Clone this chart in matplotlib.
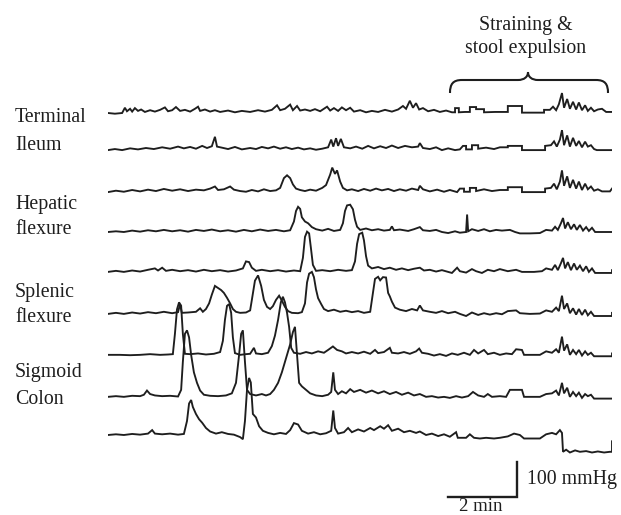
import matplotlib
matplotlib.use("Agg")
import matplotlib.pyplot as plt
from matplotlib.path import Path
from matplotlib.patches import PathPatch

# ---------------- data (time in min, pressure in mmHg) ----------------
t1 = [0.00,0.20,0.41,0.49,0.55,0.64,0.70,0.78,0.87,0.96,1.07,1.22,1.36,1.51,1.65,1.74,1.86,1.97,2.09,2.23,2.38,2.52,2.61,2.67,2.81,2.96,3.10,3.25,3.48,3.68,3.88,4.12,4.35,4.55,4.75,4.90,4.99,5.13,5.28,5.36,5.48,5.57,5.71,5.86,6.00,6.15,6.35,6.44,6.55,6.67,6.78,6.90,7.02,7.13,7.31,7.48,7.65,7.83,8.03,8.23,8.41,8.55,8.64,8.75,8.84,8.93,9.02,9.13,9.28,9.45,9.62,9.80,9.97,10.06,10.06,10.17,10.17,10.35,10.49,10.49,10.67,10.67,10.90,10.90,11.22,11.59,11.59,12.00,12.00,12.38,12.64,12.64,12.81,12.90,12.99,13.07,13.16,13.22,13.31,13.39,13.48,13.57,13.65,13.74,13.83,13.91,14.00,14.09,14.20,14.32,14.44,14.61]
p1 = [0,-2,0,15,5,12,4,14,6,10,3,8,4,9,16,5,8,17,6,9,4,12,18,6,10,4,8,3,7,2,6,3,8,4,9,22,8,12,24,8,20,7,10,6,11,5,18,7,14,6,16,8,15,4,8,2,6,3,9,4,10,20,12,35,15,28,10,14,5,9,3,7,2,2,14,14,2,3,3,17,17,11,11,2,3,3,20,20,1,1,1,9,9,18,8,25,57,15,40,12,32,10,30,8,22,6,15,5,10,12,3,3]

t2 = [0.00,0.20,0.41,0.64,0.87,1.10,1.33,1.57,1.80,2.03,2.20,2.38,2.55,2.73,2.87,3.01,3.10,3.16,3.30,3.48,3.68,3.88,4.12,4.29,4.46,4.64,4.81,4.99,5.16,5.33,5.51,5.68,5.86,6.03,6.21,6.38,6.47,6.53,6.61,6.67,6.75,6.84,7.02,7.19,7.37,7.54,7.71,7.89,8.06,8.23,8.41,8.61,8.81,8.99,9.04,9.13,9.33,9.51,9.68,9.86,10.06,10.20,10.29,10.38,10.38,10.55,10.55,10.73,10.73,10.96,11.19,11.36,11.59,11.59,12.00,12.00,12.35,12.67,12.67,12.84,12.93,13.01,13.10,13.16,13.22,13.31,13.39,13.48,13.57,13.65,13.74,13.83,13.91,14.00,14.09,14.17,14.61]
p2 = [0,3,0,5,2,6,3,8,4,10,5,9,4,12,6,11,38,10,7,3,9,2,6,3,9,5,10,4,8,3,7,2,5,1,4,8,30,10,34,12,32,8,5,10,4,12,5,11,6,13,6,12,8,10,20,6,3,8,0,5,0,2,12,12,2,2,14,14,4,7,3,8,8,12,12,0,0,0,12,14,25,10,30,57,14,42,10,35,12,26,8,24,10,14,3,0,0]

t3 = [0.00,0.23,0.46,0.70,0.93,1.16,1.39,1.62,1.86,2.09,2.32,2.55,2.78,2.96,3.10,3.19,3.36,3.54,3.65,3.83,4.00,4.17,4.35,4.52,4.70,4.87,4.99,5.10,5.19,5.28,5.36,5.45,5.57,5.71,5.86,6.03,6.21,6.32,6.44,6.50,6.58,6.64,6.73,6.81,6.93,7.07,7.25,7.42,7.60,7.77,7.94,8.12,8.29,8.46,8.64,8.81,8.99,9.04,9.13,9.33,9.54,9.74,9.91,10.12,10.20,10.32,10.32,10.49,10.49,10.67,10.67,10.90,11.13,11.36,11.59,11.59,12.00,12.00,12.67,12.67,12.84,12.93,13.01,13.10,13.16,13.22,13.31,13.39,13.48,13.57,13.65,13.74,13.83,13.91,14.00,14.09,14.20,14.32,14.55,14.61]
p3 = [0,4,1,6,2,7,3,9,4,8,3,7,5,10,16,6,8,16,7,3,1,6,2,8,3,5,12,40,48,40,22,10,6,3,7,4,12,20,50,70,52,62,30,12,5,8,3,9,4,10,5,9,3,8,4,10,6,18,8,2,7,1,6,0,10,10,1,1,12,12,3,8,3,6,6,14,14,0,0,10,12,24,8,30,62,18,45,12,35,10,30,6,24,8,16,4,8,2,2,10]

t4 = [0.00,0.23,0.46,0.70,0.93,1.16,1.39,1.62,1.86,2.09,2.32,2.55,2.78,3.01,3.25,3.48,3.71,3.94,4.17,4.41,4.64,4.87,5.10,5.28,5.39,5.45,5.51,5.57,5.62,5.71,5.80,5.91,6.03,6.21,6.38,6.55,6.73,6.81,6.87,6.93,7.02,7.10,7.16,7.22,7.31,7.48,7.65,7.83,8.00,8.17,8.23,8.29,8.46,8.70,8.87,9.04,9.13,9.33,9.51,9.68,9.86,10.06,10.20,10.38,10.41,10.44,10.55,10.73,10.90,11.07,11.25,11.42,11.65,11.80,11.94,12.23,12.52,12.70,12.87,12.96,13.04,13.13,13.19,13.25,13.33,13.42,13.51,13.59,13.68,13.77,13.86,13.94,14.03,14.12,14.26,14.61]
p4 = [0,2,0,4,1,5,2,6,2,5,1,6,3,7,2,5,1,6,2,7,3,6,2,5,30,60,72,66,42,30,25,14,8,4,9,3,6,25,60,76,78,65,35,15,6,10,5,8,4,6,16,5,7,3,8,14,5,3,6,0,-3,2,-2,0,50,2,8,3,8,2,6,4,6,0,-4,-4,-3,6,4,15,6,25,40,10,28,8,22,6,20,4,14,3,12,0,0,0]

t5 = [0.00,0.23,0.46,0.70,0.93,1.16,1.36,1.45,1.57,1.68,1.86,2.09,2.32,2.55,2.78,3.01,3.25,3.48,3.71,3.91,4.00,4.09,4.17,4.29,4.46,4.70,4.93,5.16,5.39,5.57,5.65,5.71,5.77,5.83,5.88,5.94,6.03,6.21,6.44,6.67,6.90,7.07,7.16,7.22,7.28,7.37,7.42,7.48,7.54,7.65,7.83,8.00,8.17,8.35,8.52,8.70,8.87,9.04,9.16,9.33,9.51,9.68,9.86,9.97,10.12,10.20,10.38,10.55,10.67,10.84,11.01,11.19,11.36,11.59,11.83,12.00,12.35,12.58,12.70,12.87,12.96,13.04,13.13,13.19,13.25,13.33,13.42,13.51,13.59,13.68,13.77,13.86,13.94,14.03,14.12,14.61,14.61]
p5 = [0,3,0,4,1,6,10,4,12,3,6,2,5,1,6,2,5,1,4,10,30,28,12,3,6,2,5,1,4,2,40,100,115,110,70,20,3,5,2,6,3,5,30,80,108,112,90,45,18,10,14,8,12,6,10,5,9,12,4,6,1,5,0,-3,12,2,-2,8,2,-3,6,2,8,2,6,0,0,2,10,6,20,5,25,40,10,28,5,24,6,18,2,16,0,10,-3,-3,5]

t6 = [0.00,0.23,0.46,0.70,0.93,1.16,1.39,1.62,1.86,2.03,2.09,2.14,2.32,2.55,2.67,2.75,2.84,2.93,3.01,3.10,3.19,3.28,3.36,3.45,3.54,3.62,3.71,3.83,4.00,4.12,4.17,4.26,4.35,4.44,4.52,4.61,4.70,4.78,4.87,4.96,5.04,5.13,5.22,5.33,5.51,5.62,5.71,5.77,5.83,5.91,5.97,6.03,6.09,6.18,6.26,6.38,6.55,6.73,6.90,7.07,7.25,7.42,7.60,7.68,7.74,7.83,7.89,7.97,8.06,8.12,8.17,8.23,8.32,8.46,8.64,8.81,8.96,9.04,9.13,9.33,9.51,9.68,9.86,10.06,10.20,10.38,10.55,10.73,10.90,11.07,11.25,11.42,11.59,11.83,11.94,12.23,12.52,12.70,12.87,12.99,13.07,13.16,13.22,13.31,13.39,13.48,13.57,13.65,13.74,13.83,13.91,14.00,14.09,14.61,14.61]
p6 = [0,3,0,4,1,5,2,6,2,5,28,3,4,6,16,6,14,30,55,80,74,68,60,46,30,14,6,3,4,10,40,95,110,80,40,20,14,22,40,52,38,20,8,3,2,5,30,90,115,120,105,70,45,28,14,8,12,6,9,5,8,3,6,60,100,106,96,105,104,60,50,35,18,12,8,14,10,24,10,6,3,8,2,6,0,-6,4,-3,2,-2,2,-1,8,10,2,0,1,10,6,18,8,52,14,30,2,16,-2,14,-3,12,-4,6,-6,-6,3]

t7 = [0.00,0.35,0.64,0.93,1.22,1.51,1.74,1.88,1.94,2.00,2.06,2.12,2.17,2.23,2.38,2.61,2.84,3.07,3.25,3.33,3.39,3.45,3.51,3.57,3.62,3.68,3.83,4.00,4.12,4.23,4.29,4.46,4.64,4.75,4.84,4.93,5.01,5.07,5.13,5.19,5.25,5.31,5.39,5.57,5.74,5.91,6.09,6.26,6.38,6.52,6.64,6.78,6.90,7.07,7.25,7.42,7.60,7.74,7.83,8.00,8.17,8.23,8.41,8.58,8.75,8.93,9.02,9.10,9.28,9.45,9.62,9.80,9.97,10.14,10.32,10.49,10.61,10.73,10.90,11.01,11.19,11.36,11.54,11.71,11.83,12.00,12.06,12.52,12.70,12.87,12.99,13.07,13.16,13.22,13.31,13.39,13.48,13.57,13.65,13.74,13.83,13.91,14.00,14.09,14.61,14.61]
p7 = [0,0,-1,0,2,0,1,2,60,130,150,140,60,3,2,4,1,3,8,40,100,140,145,120,50,5,0,2,3,20,4,2,6,25,55,100,150,166,150,120,80,20,6,3,8,4,10,6,14,24,14,10,4,8,4,9,3,14,5,8,20,6,4,8,3,10,18,6,3,-2,2,-3,4,0,6,0,14,4,14,2,6,0,4,2,16,14,0,0,10,6,16,6,52,12,30,0,14,2,14,-2,10,0,6,-4,-4,4]

t8 = [0.00,0.23,0.46,0.70,0.93,1.04,1.13,1.22,1.36,1.57,1.80,2.03,2.12,2.17,2.23,2.29,2.35,2.41,2.49,2.58,2.67,2.78,2.96,3.19,3.42,3.59,3.71,3.80,3.86,3.91,3.97,4.03,4.12,4.29,4.46,4.58,4.70,4.81,4.93,5.04,5.16,5.28,5.36,5.42,5.48,5.54,5.62,5.74,5.86,6.03,6.21,6.38,6.47,6.53,6.58,6.67,6.78,6.90,7.02,7.13,7.31,7.48,7.65,7.83,8.00,8.17,8.35,8.52,8.70,8.87,9.04,9.22,9.39,9.57,9.74,9.91,10.09,10.26,10.44,10.58,10.73,10.90,11.01,11.13,11.36,11.54,11.65,12.00,12.06,12.52,12.70,12.87,12.99,13.07,13.16,13.22,13.31,13.39,13.48,13.57,13.65,13.74,13.83,13.91,14.00,14.09,14.61]
p8 = [0,2,0,3,2,6,18,8,4,2,3,1,20,100,180,190,170,120,70,40,18,6,3,2,4,10,40,120,180,190,100,20,8,4,8,4,8,20,40,70,110,150,185,200,120,40,30,20,10,4,2,6,14,70,20,8,16,10,22,14,20,12,18,10,16,8,14,6,12,4,8,0,2,-2,0,-3,2,-2,2,14,4,0,8,0,2,0,20,20,0,0,8,10,18,4,40,10,26,0,14,2,12,-3,8,2,6,-5,-5]

t9 = [0.00,0.23,0.46,0.70,0.93,1.16,1.28,1.36,1.57,1.80,2.03,2.20,2.29,2.35,2.41,2.46,2.55,2.64,2.73,2.84,2.96,3.13,3.30,3.48,3.65,3.83,3.91,3.97,4.03,4.09,4.14,4.20,4.29,4.38,4.49,4.64,4.81,4.99,5.16,5.28,5.39,5.51,5.62,5.80,5.97,6.15,6.32,6.47,6.53,6.58,6.67,6.84,6.96,7.07,7.25,7.42,7.60,7.71,7.89,8.00,8.12,8.23,8.41,8.58,8.75,8.93,9.04,9.22,9.39,9.57,9.74,9.91,10.09,10.14,10.38,10.49,10.61,10.78,10.96,11.19,11.36,11.59,11.77,11.94,12.06,12.52,12.70,12.87,12.99,13.10,13.16,13.19,13.28,13.39,13.54,13.68,13.86,14.03,14.20,14.38,14.55,14.61,14.61]
p9 = [0,2,0,3,1,4,14,4,2,4,1,3,40,90,100,80,60,45,35,20,10,4,8,3,1,-6,-12,40,130,163,150,60,50,25,12,6,2,6,3,14,34,30,12,4,8,2,5,12,70,20,4,8,20,8,16,10,20,14,25,18,28,12,18,8,12,6,10,0,4,-3,2,-5,8,-8,-8,2,-8,-10,-8,-10,-8,-4,4,0,-10,-10,2,6,2,14,6,-48,-42,-50,-44,-48,-46,-50,-47,-50,-48,-48,-18]

series_t = [t1, t2, t3, t4, t5, t6, t7, t8, t9]
series_p = [p1, p2, p3, p4, p5, p6, p7, p8, p9]
offsets = [920, 814, 694, 580, 466, 346, 229, 109, 0]  # vertical stacking, mmHg

labels = [("Terminal", "Ileum"), ("Hepatic", "flexure"),
          ("Splenic", "flexure"), ("Sigmoid", "Colon")]
bracket_text = ["Straining &", "stool expulsion"]
scale_p = 100   # mmHg
scale_t = 2     # min

# ---------------- figure ----------------
W, H = 621, 515
fig = plt.figure(figsize=(W / 100, H / 100), dpi=100)
FONT = "Liberation Serif"
FS = 14.3
INK = "#1e1e1e"

x0, x1 = 108, 612
ypx_bot, ypx_top = 500, 80
px_per_mmHg = 0.35
base_px = 435
ax = fig.add_axes([x0 / W, 1 - ypx_bot / H, (x1 - x0) / W, (ypx_bot - ypx_top) / H])
ax.set_xlim(0, 14.61)
ax.set_ylim(-(ypx_bot - base_px) / px_per_mmHg, (base_px - ypx_top) / px_per_mmHg)
ax.axis("off")

for t, p, off in zip(series_t, series_p, offsets):
    ax.plot(t, [v + off for v in p], color=INK, lw=1.35, solid_joinstyle="miter")

# scale bars
xb1 = 11.86
xb0 = xb1 - scale_t
yb0 = -177
ax.plot([xb0, xb1, xb1], [yb0, yb0, yb0 + scale_p], color=INK, lw=1.7,
        clip_on=False, solid_joinstyle="miter")
ax.text(xb1 + 0.28, yb0 + scale_p / 2, "100 mmHg", fontsize=FS, family=FONT,
        color=INK, va="center", ha="left", clip_on=False)
ax.text((xb0 + xb1) / 2 - 0.05, yb0 - 4, "2 min", fontsize=13.5, family=FONT,
        color=INK, va="top", ha="center", clip_on=False)

# overlay in pixel coordinates for annotations
ov = fig.add_axes([0, 0, 1, 1])
ov.set_xlim(0, W)
ov.set_ylim(H, 0)
ov.axis("off")
ov.patch.set_alpha(0)

label_tops = [(108, 135.5), (195.5, 220.5), (282.5, 308.5), (363.5, 390.5)]
for (l1, l2), (y1, y2) in zip(labels, label_tops):
    ov.text(15, y1, l1, fontsize=FS, family=FONT, color=INK, va="top", ha="left")
    ov.text(15, y2, l2, fontsize=FS, family=FONT, color=INK, va="top", ha="left")

ov.text(526, 16, bracket_text[0], fontsize=FS, family=FONT, color=INK, va="top", ha="center")
ov.text(526, 39, bracket_text[1], fontsize=FS, family=FONT, color=INK, va="top", ha="center")

verts = [(450, 93), (450, 84), (453, 80), (462, 80), (518, 80),
         (524, 80), (528, 77), (528, 72),
         (528, 77), (532, 80), (538, 80), (596, 80),
         (605, 80), (608, 84), (608, 93)]
codes = [Path.MOVETO, Path.CURVE4, Path.CURVE4, Path.CURVE4, Path.LINETO,
         Path.CURVE4, Path.CURVE4, Path.CURVE4,
         Path.CURVE4, Path.CURVE4, Path.CURVE4, Path.LINETO,
         Path.CURVE4, Path.CURVE4, Path.CURVE4]
ov.add_patch(PathPatch(Path(verts, codes), fill=False, ec=INK, lw=1.5))

fig.savefig("out.png", dpi=100)
